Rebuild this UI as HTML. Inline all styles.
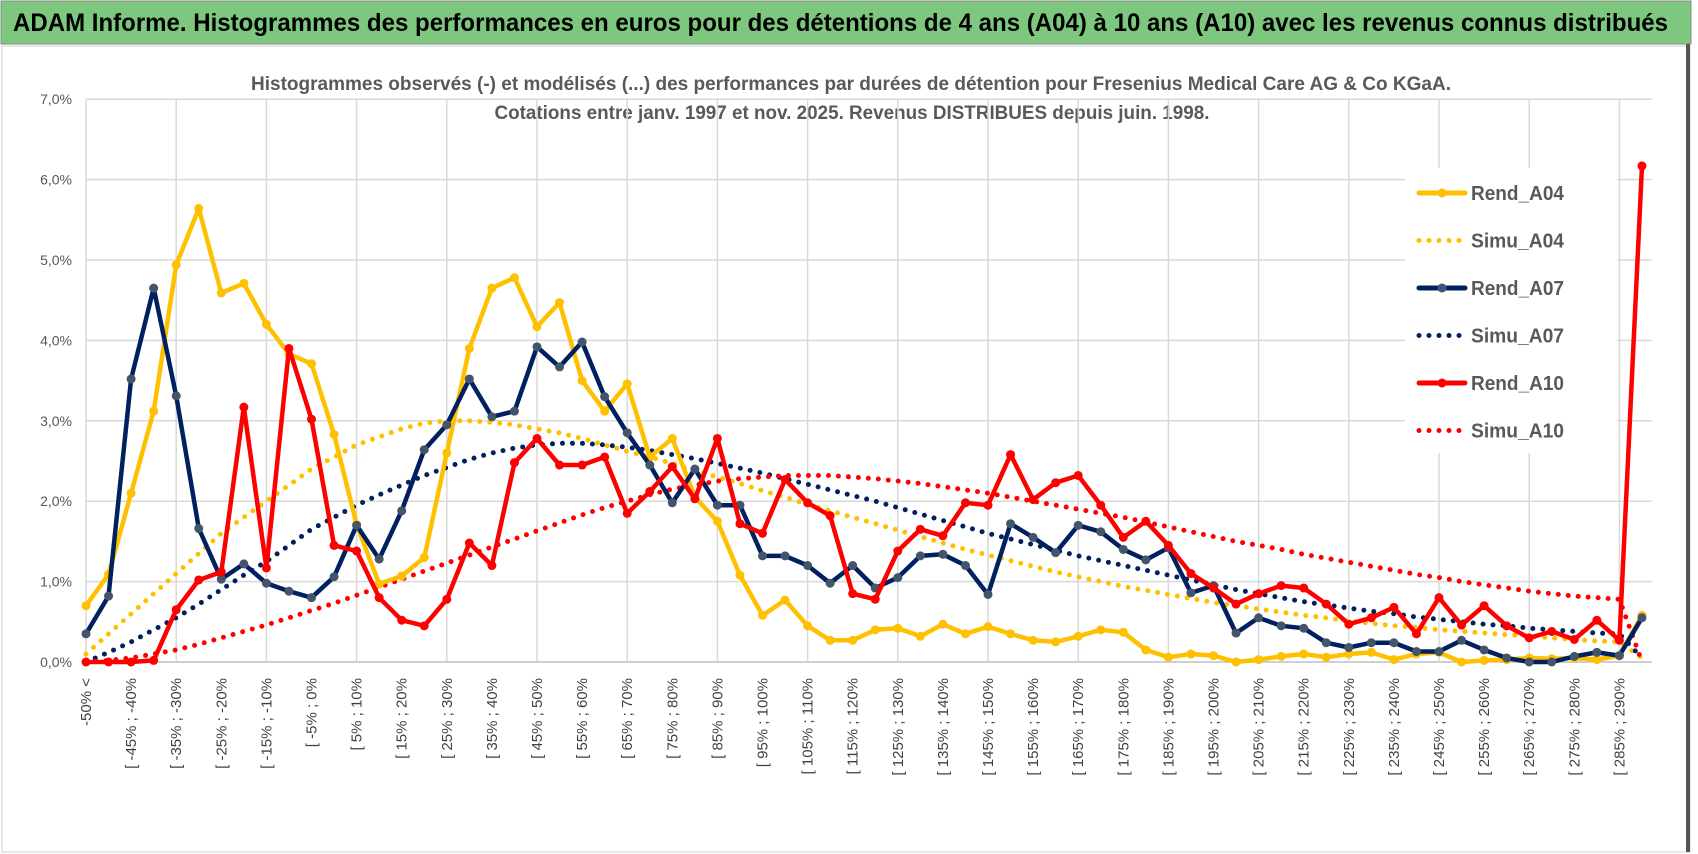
<!DOCTYPE html>
<html><head><meta charset="utf-8"><style>
body{margin:0;background:#fff;}
svg{display:block;font-family:"Liberation Sans",sans-serif;}
</style></head><body>
<svg id="chart" width="1698" height="854" viewBox="0 0 1698 854">
<rect x="0" y="0" width="1698" height="854" fill="#fff"/>
<rect x="1" y="1" width="1690" height="43" fill="#7dc87e" stroke="#8a8a8a" stroke-width="1"/>
<text x="13" y="31" font-size="25" font-weight="bold" fill="#000" textLength="1655" lengthAdjust="spacingAndGlyphs">ADAM Informe. Histogrammes des performances en euros pour des détentions de 4 ans (A04) à 10 ans (A10) avec les revenus connus distribués</text>
<rect x="2" y="46" width="1688" height="806" fill="none" stroke="#d0d0d0"/>
<rect x="1686" y="44" width="4" height="808" fill="#555"/>
<text x="851" y="90" font-size="19" font-weight="bold" fill="#595959" text-anchor="middle" textLength="1200" lengthAdjust="spacingAndGlyphs">Histogrammes observés (-) et modélisés (...) des performances par durées de détention pour Fresenius Medical Care AG &amp; Co KGaA.</text>
<text x="852" y="119" font-size="19" font-weight="bold" fill="#595959" text-anchor="middle" textLength="715" lengthAdjust="spacingAndGlyphs">Cotations entre janv. 1997 et nov. 2025. Revenus DISTRIBUES depuis juin. 1998.</text>
<g id="grid"></g><g id="axes"></g><g id="series"></g><g id="legend"></g>
</svg>
<script>
const yTicks=[0,1,2,3,4,5,6,7];
const rendA04=[0.70,1.09,2.10,3.12,4.94,5.64,4.59,4.71,4.20,3.83,3.71,2.83,1.71,0.97,1.07,1.30,2.60,3.90,4.65,4.78,4.17,4.47,3.50,3.12,3.46,2.55,2.78,2.05,1.75,1.08,0.58,0.77,0.45,0.27,0.27,0.40,0.42,0.32,0.47,0.35,0.44,0.35,0.27,0.25,0.32,0.40,0.37,0.15,0.06,0.10,0.08,0.00,0.03,0.07,0.10,0.06,0.10,0.12,0.03,0.10,0.12,0.00,0.02,0.03,0.05,0.04,0.05,0.03,0.08,0.58];
const rendA07=[0.35,0.82,3.52,4.65,3.31,1.66,1.03,1.22,0.98,0.88,0.80,1.06,1.70,1.28,1.88,2.64,2.95,3.52,3.05,3.12,3.92,3.67,3.98,3.30,2.85,2.45,1.98,2.40,1.95,1.95,1.32,1.32,1.20,0.98,1.20,0.92,1.05,1.32,1.34,1.20,0.84,1.72,1.55,1.36,1.70,1.62,1.40,1.27,1.42,0.86,0.95,0.36,0.55,0.45,0.42,0.24,0.18,0.24,0.24,0.13,0.13,0.27,0.15,0.05,0.00,0.00,0.07,0.12,0.08,0.55];
const rendA10=[0,0,0,0.02,0.65,1.02,1.12,3.17,1.17,3.90,3.02,1.45,1.38,0.80,0.52,0.45,0.78,1.48,1.20,2.48,2.78,2.45,2.45,2.55,1.85,2.12,2.43,2.03,2.78,1.72,1.60,2.27,1.98,1.82,0.85,0.78,1.38,1.65,1.57,1.98,1.95,2.58,2.02,2.23,2.32,1.95,1.55,1.75,1.45,1.10,0.92,0.72,0.85,0.95,0.92,0.72,0.47,0.55,0.68,0.35,0.80,0.46,0.70,0.45,0.30,0.38,0.28,0.52,0.27,6.17];
const simuA04=[0.10,0.35,0.60,0.85,1.10,1.35,1.60,1.80,2.00,2.20,2.40,2.55,2.70,2.80,2.90,2.97,3.00,3.00,2.98,2.95,2.90,2.85,2.78,2.70,2.62,2.55,2.47,2.38,2.30,2.22,2.13,2.05,1.96,1.88,1.80,1.72,1.64,1.56,1.48,1.40,1.33,1.26,1.19,1.12,1.06,1.00,0.94,0.89,0.84,0.79,0.74,0.70,0.66,0.62,0.58,0.55,0.51,0.48,0.45,0.43,0.40,0.38,0.36,0.34,0.32,0.30,0.28,0.26,0.25,0.05];
const simuA07=[0.00,0.12,0.25,0.40,0.55,0.72,0.90,1.08,1.25,1.45,1.65,1.80,1.95,2.08,2.20,2.32,2.42,2.52,2.60,2.66,2.70,2.72,2.72,2.70,2.67,2.63,2.58,2.53,2.47,2.41,2.35,2.28,2.21,2.14,2.07,2.00,1.92,1.84,1.76,1.68,1.60,1.53,1.46,1.39,1.32,1.26,1.20,1.14,1.08,1.02,0.96,0.90,0.85,0.80,0.75,0.71,0.67,0.63,0.60,0.56,0.53,0.50,0.47,0.45,0.42,0.40,0.38,0.36,0.35,0.05];
const simuA10=[0.00,0.02,0.05,0.10,0.15,0.22,0.30,0.38,0.46,0.55,0.64,0.73,0.83,0.93,1.03,1.13,1.23,1.33,1.43,1.53,1.63,1.73,1.83,1.92,2.00,2.08,2.15,2.20,2.25,2.28,2.30,2.32,2.32,2.32,2.30,2.28,2.25,2.22,2.18,2.14,2.10,2.05,2.00,1.95,1.90,1.85,1.80,1.74,1.68,1.62,1.56,1.50,1.45,1.40,1.34,1.29,1.24,1.19,1.14,1.09,1.05,1.00,0.96,0.92,0.88,0.85,0.82,0.80,0.78,0.00];
const categories=rendA04.map((_,i)=>i===0?"-50% <":"[ "+(-55+5*i)+"% ; "+(-50+5*i)+"%");

const NS="http://www.w3.org/2000/svg";
const X0=86,DX=22.55,Y0=662,PY=80.4;
const xS=i=>X0+i*DX, yS=v=>Y0-v*PY;
function mk(tag,attrs,parent){const e=document.createElementNS(NS,tag);for(const k in attrs)e.setAttribute(k,attrs[k]);parent.appendChild(e);return e;}
const grid=document.getElementById('grid'),axes=document.getElementById('axes'),ser=document.getElementById('series'),leg=document.getElementById('legend');
const xEnd=xS(categories.length-1)+10;
yTicks.forEach(t=>{
  const l=mk('line',{x1:X0,x2:xEnd,y1:yS(t),y2:yS(t),stroke:t===0?'#bfbfbf':'#d9d9d9','stroke-width':1.5},grid);
  
  
  const tx=mk('text',{x:72,y:yS(t)+5,'font-size':14,fill:'#595959','text-anchor':'end'},axes);
  tx.textContent=t.toFixed(1).replace('.',',')+'%';
  
  
});
for(let i=0;i<categories.length;i+=4){
  const l=mk('line',{x1:xS(i),x2:xS(i),y1:yS(7),y2:yS(0),stroke:'#d9d9d9','stroke-width':1.5},grid);
  
  
}
categories.forEach((c,i)=>{
  if(i%2)return;
  const tx=mk('text',{x:0,y:0,'font-size':15,fill:'#404040','text-anchor':'end',transform:`translate(${xS(i)+5},${678}) rotate(-90)`},axes);
  tx.textContent=c;
  
  
});
const pts=a=>a.map((v,i)=>xS(i).toFixed(1)+','+yS(v).toFixed(1)).join(' ');
function dotted(arr,col,name){
  const p=mk('polyline',{points:pts(arr),fill:'none',stroke:col,'stroke-width':5,'stroke-linecap':'round','stroke-dasharray':'0 10'},ser);
  
  
}
function solid(arr,col,mcol,name){
  const p=mk('polyline',{points:pts(arr),fill:'none',stroke:col,'stroke-width':4.5,'stroke-linejoin':'round'},ser);
  
  
  arr.forEach((v,i)=>{const c=mk('circle',{cx:xS(i),cy:yS(v),r:4.5,fill:mcol},ser);
    
    });
}
dotted(simuA04,'#ffc000','simu-a04-series');
dotted(simuA07,'#002060','simu-a07-series');
dotted(simuA10,'#ff0000','simu-a10-series');
solid(rendA04,'#ffc000','#ffc000','rend-a04');
solid(rendA07,'#002060','#44546a','rend-a07');
solid(rendA10,'#ff0000','#ff0000','rend-a10');
const lb=mk('rect',{x:1405,y:168,width:212,height:285,fill:'#fff'},leg);


const items=[['Rend_A04','#ffc000',false,'#ffc000'],['Simu_A04','#ffc000',true],['Rend_A07','#002060',false,'#44546a'],['Simu_A07','#002060',true],['Rend_A10','#ff0000',false,'#ff0000'],['Simu_A10','#ff0000',true]];
items.forEach((it,k)=>{
  const y=193+k*47.5;
  const g=mk('g',{},leg);
  
  
  if(it[2]) mk('line',{x1:1419,x2:1460,y1:y,y2:y,stroke:it[1],'stroke-width':5,'stroke-linecap':'round','stroke-dasharray':'0 10'},g);
  else { mk('line',{x1:1419,x2:1465,y1:y,y2:y,stroke:it[1],'stroke-width':5,'stroke-linecap':'round'},g);
         mk('circle',{cx:1442,cy:y,r:4.5,fill:it[3]},g);}
  const t=mk('text',{x:1471,y:y+7,'font-size':20,'font-weight':'bold',fill:'#595959',textLength:93,lengthAdjust:'spacingAndGlyphs'},g);
  t.textContent=it[0];
});
</script>
</body></html>
